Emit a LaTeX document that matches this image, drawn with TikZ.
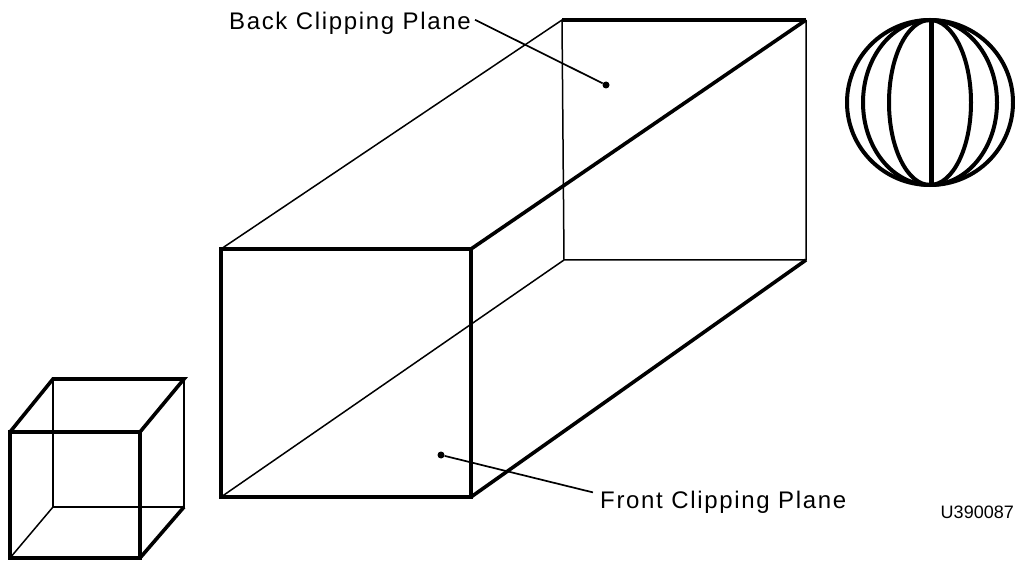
\documentclass[tikz,border=0pt]{standalone}
\usepackage{fontspec}
\setmainfont{Liberation Sans}
\newfontfamily\callfont[LetterSpace=7]{Liberation Sans}
\usetikzlibrary{positioning}

\begin{document}
\begin{tikzpicture}[
  x=1pt, y=-1pt,
  heavy/.style={line width=3.6pt, line join=miter},
  light/.style={line width=1.5pt},
  leader/.style={line width=1.7pt},
  pin/.style={circle, fill=black, inner sep=0pt, minimum size=7pt},
  call/.style={font=\fontsize{24}{28}\callfont, inner sep=4pt},
  globe/.style={line width=4pt},
]
  \useasboundingbox (0,0) rectangle (1015,564);

  % Clipping volume
  \coordinate (fnw) at (221,249);
  \coordinate (fne) at (471,249);
  \coordinate (fse) at (471,497);
  \coordinate (fsw) at (221,497);
  \coordinate (bnw) at (562,20);
  \coordinate (bne) at (806,20);
  \coordinate (bse) at (806,260);
  \coordinate (bsw) at (564,260);

  \draw[light] (fnw) -- (bnw) -- (bsw) -- (bse) -- (bne);
  \draw[light] (fsw) -- (bsw);
  \draw[heavy] (fne) -- (bne);
  \draw[heavy] (fse) -- (bse);
  \draw[heavy] (bnw) -- (bne);
  \draw[heavy] (fnw) rectangle (fse);

  % Small cube
  \coordinate (cfnw) at (10,432);
  \coordinate (cfne) at (140,432);
  \coordinate (cfse) at (140,558);
  \coordinate (cfsw) at (10,558);
  \coordinate (cbnw) at (53,379);
  \coordinate (cbne) at (184,379);
  \coordinate (cbse) at (184,507);
  \coordinate (cbsw) at (53,507);

  \draw[light] (cbnw) -- (cbsw) -- (cbse) -- (cbne);
  \draw[light] (cfsw) -- (cbsw);
  \draw[heavy] (cfnw) -- (cbnw) -- (cbne) -- (cfne);
  \draw[heavy] (cfse) -- (cbse);
  \draw[heavy] (cfnw) rectangle (cfse);

  % Sphere
  \coordinate (globec) at (930,102.5);
  \foreach \rx in {83,67,41} {
    \draw[globe] (globec) ellipse ({\rx} and 82.5);
  }
  \draw[globe, line width=5pt] (931,20) -- (931,185);

  % Labels
  \node[pin] (backpin) at (606,85) {};
  \node[pin] (frontpin) at (441,455) {};
  \node[call, anchor=base east] (backlabel) at (475,30) {Back Clipping Plane};
  \node[call, anchor=base west] (frontlabel) at (596,508) {Front Clipping Plane};
  \node[font=\fontsize{18}{20}\selectfont, anchor=base east, inner sep=0pt] (partno) at (1014,518) {U390087};

  \draw[leader] ([yshift=4pt]backlabel.east) -- (backpin);
  \draw[leader] ([xshift=-3pt,yshift=-6pt]frontlabel.north west) -- (frontpin);
\end{tikzpicture}
\end{document}
